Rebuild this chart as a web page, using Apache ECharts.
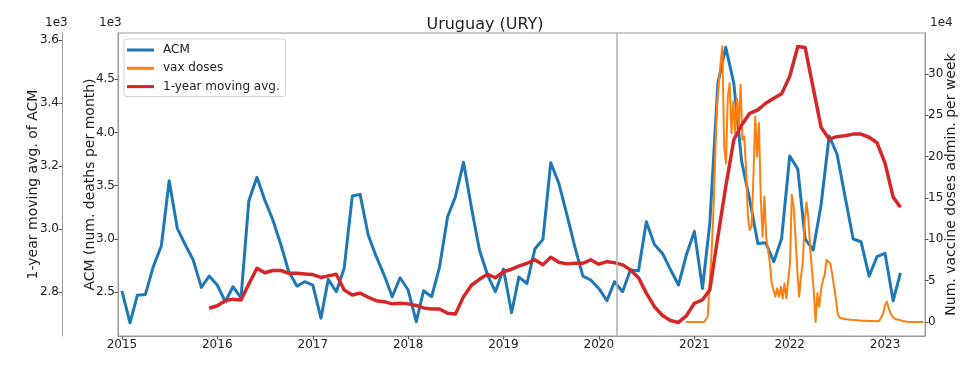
<!DOCTYPE html>
<html><head><meta charset="utf-8">
<script src="https://cdn.jsdelivr.net/npm/echarts@6/dist/echarts.min.js"></script>
<style>html,body{margin:0;padding:0;background:#fff}#c{width:970px;height:381px}</style>
</head><body><div id="c"></div>
<script>
// ---- data ----
const titleText = 'Uruguay (URY)';
const yearTicks = [2015, 2016, 2017, 2018, 2019, 2020, 2021, 2022, 2023];
const acmTicks = [2500, 3000, 3500, 4000, 4500];
const avgTicks = [2800, 3000, 3200, 3400, 3600];
const vaxTicks = [0, 50000, 100000, 150000, 200000, 250000, 300000];
const acmStart = [2015, 0];          // monthly, Jan 2015
const avgStartIndex = 11;            // moving average starts Dec 2015
const vaxStart = [2020, 10, 29];     // weekly, from 29 Nov 2020
const covidDate = [2020, 2, 11];

const acm = [2512,2211,2469,2478,2738,2935,3546,3099,2942,2801,2544,2650,
  2566,2409,2550,2446,3358,3578,3365,3177,2942,2691,2556,2597,
  2566,2255,2619,2503,2723,3402,3418,3036,2832,2660,2456,2634,
  2519,2221,2512,2456,2732,3208,3396,3719,3286,2895,2660,2503,
  2716,2306,2640,2580,2904,2995,3715,3522,3224,2926,2650,2613,
  2534,2418,2597,2503,2707,2701,3161,2947,2863,2713,2566,2848,
  3070,2534,3146,4461,4800,4461,3725,3365,2957,2963,2785,3004,
  3778,3655,3000,2895,3318,3966,3797,3396,2998,2973,2650,2832,
  2863,2418,2681];

const movingAvg = [2748,
  2756,2772,2777,2774,2825,2875,2861,2868,2868,2859,2859,2857,
  2855,2846,2851,2856,2806,2790,2796,2783,2772,2769,2762,2764,
  2762,2757,2749,2746,2746,2732,2730,2785,2822,2840,2856,2845,
  2864,2872,2882,2891,2902,2886,2910,2894,2889,2891,2891,2902,
  2888,2896,2893,2886,2870,2845,2796,2753,2725,2709,2703,2724,
  2764,2775,2806,2976,3134,3283,3330,3367,3378,3399,3415,3429,
  3484,3579,3576,3447,3323,3285,3293,3296,3301,3301,3291,3274,
  3209,3101,3069];

const vaxDoses = [0,0,0,0,0,0,0,0,0,0,0,0,
  6400,46900,79000,127500,192000,260700,260700,313000,333400,212000,192000,272800,
  289000,228500,266800,228500,270900,236500,287000,220400,224400,184000,127500,111400,
  115400,176000,248600,200200,240600,151700,103300,151700,103300,87200,71100,46900,
  38800,30700,40800,30700,42800,28700,46900,28700,28700,71100,153800,139600,
  103300,63000,30700,54900,71100,119500,145000,127500,91200,63000,38800,0,
  34800,18500,38800,50900,56900,75100,75100,71100,59000,59000,30700,10500,
  5700,4000,4000,3600,3200,3000,2800,2600,2400,2200,2000,1800,
  1600,1500,1400,1300,1200,1200,1100,1000,1000,1200,1600,2400,
  10500,20600,24600,16600,10500,6400,4400,3200,3000,2500,2000,800,
  300,200,100,0,0,0,0,0,0,0,0];

// ---- build ----
const t = (y, m, d) => new Date(y, m, d).getTime();
const acmData = acm.map((v, i) => [t(acmStart[0], acmStart[1] + i, 1), v]);
const avgData = movingAvg.map((v, i) => [t(acmStart[0], acmStart[1] + avgStartIndex + i, 1), v]);
const vaxData = vaxDoses.map((v, i) => [t(vaxStart[0], vaxStart[1], vaxStart[2] + 7 * i), v]);
const yearVals = yearTicks.map(y => t(y, 0, 1));

const FONT = 'DejaVu Sans';
const spine = '#9a9a9a';
const tickCol = '#555';
const lab = {color: '#222', fontFamily: FONT, fontSize: 12};
const nameStyle = {fontFamily: FONT, fontSize: 14, color: '#222'};

const chart = echarts.init(document.getElementById('c'), null, {renderer: 'canvas'});
chart.setOption({
  animation: false,
  backgroundColor: '#fff',
  title: {text: titleText, left: 'center', top: 17, itemGap: 0, padding: 0,
    textStyle: {fontFamily: FONT, fontSize: 16, fontWeight: 'normal', color: '#222'}},
  grid: {left: 118, right: 45, top: 33, bottom: 45, show: true, borderColor: spine, borderWidth: 1, backgroundColor: 'transparent'},
  legend: {
    orient: 'vertical', left: 124, top: 39, itemWidth: 27, itemHeight: 3, itemGap: 4.3,
    icon: 'rect', padding: [4, 6, 3, 3],
    backgroundColor: 'rgba(255,255,255,0.85)', borderColor: '#d0d0d0', borderWidth: 1, borderRadius: 3,
    textStyle: {fontFamily: FONT, fontSize: 12, color: '#222', lineHeight: 14, padding: [0, 0, 0, 4]},
    data: ['ACM', 'vax doses', '1-year moving avg.']
  },
  xAxis: {
    type: 'value', min: t(2014, 11, 17), max: t(2023, 5, 3),
    splitLine: {show: false},
    axisLine: {show: true, onZero: false, lineStyle: {color: spine}},
    axisTick: {show: true, length: 3.5, lineStyle: {color: tickCol}, customValues: yearVals},
    axisLabel: Object.assign({margin: 2.5, customValues: yearVals,
      formatter: v => String(new Date(v).getFullYear())}, lab)
  },
  yAxis: [
    {type: 'value', position: 'left', min: 2087, max: 4934,
      name: 'ACM (num. deaths per month)', nameLocation: 'middle', nameGap: 21, nameRotate: 90,
      nameMoveOverlap: false, nameTextStyle: nameStyle,
      splitLine: {show: false},
      axisLine: {show: true, lineStyle: {color: spine}},
      axisTick: {show: true, length: 3.5, lineStyle: {color: tickCol}, customValues: acmTicks},
      axisLabel: Object.assign({margin: 3, customValues: acmTicks, formatter: v => (v / 1000).toFixed(1)}, lab)
    },
    {type: 'value', position: 'left', offset: 56, min: 2660, max: 3622,
      name: '1-year moving avg. of ACM', nameLocation: 'middle', nameGap: 22, nameRotate: 90,
      nameMoveOverlap: false, nameTextStyle: nameStyle,
      splitLine: {show: false},
      axisLine: {show: true, lineStyle: {color: spine}},
      axisTick: {show: true, length: 3.5, lineStyle: {color: tickCol}, customValues: avgTicks},
      axisLabel: Object.assign({margin: 3, customValues: avgTicks, formatter: v => (v / 1000).toFixed(1)}, lab)
    },
    {type: 'value', position: 'right', min: -16935, max: 349600,
      name: 'Num. vaccine doses admin. per week', nameLocation: 'middle', nameGap: 19, nameRotate: 90,
      nameMoveOverlap: false, nameTextStyle: nameStyle,
      splitLine: {show: false},
      axisLine: {show: true, lineStyle: {color: spine}},
      axisTick: {show: true, length: 3.5, lineStyle: {color: tickCol}, customValues: vaxTicks},
      axisLabel: Object.assign({margin: 3, customValues: vaxTicks, formatter: v => String(Math.round(v / 10000))}, lab)
    }
  ],
  graphic: [
    {type: 'text', left: 45, top: 17, style: {text: '1e3', font: '12px "DejaVu Sans"', fill: '#222'}},
    {type: 'text', left: 99, top: 17, style: {text: '1e3', font: '12px "DejaVu Sans"', fill: '#222'}},
    {type: 'text', left: 930, top: 17, style: {text: '1e4', font: '12px "DejaVu Sans"', fill: '#222'}}
  ],
  series: [
    {name: 'ACM', type: 'line', yAxisIndex: 0, data: acmData, showSymbol: false, z: 2,
      color: '#1f77b4', lineStyle: {width: 3, color: '#1f77b4', join: 'round'},
      markLine: {silent: true, symbol: 'none', label: {show: false},
        lineStyle: {color: '#b0b0b0', width: 1.5, type: 'solid'},
        data: [{xAxis: t(covidDate[0], covidDate[1], covidDate[2])}]}},
    {name: 'vax doses', type: 'line', yAxisIndex: 2, data: vaxData, showSymbol: false, z: 3,
      color: '#ff7f0e', lineStyle: {width: 2, color: '#ff7f0e', join: 'round'}},
    {name: '1-year moving avg.', type: 'line', yAxisIndex: 1, data: avgData, showSymbol: false, z: 4,
      color: '#d62728', lineStyle: {width: 3.5, color: '#d62728', join: 'round'}}
  ]
});
</script></body></html>
